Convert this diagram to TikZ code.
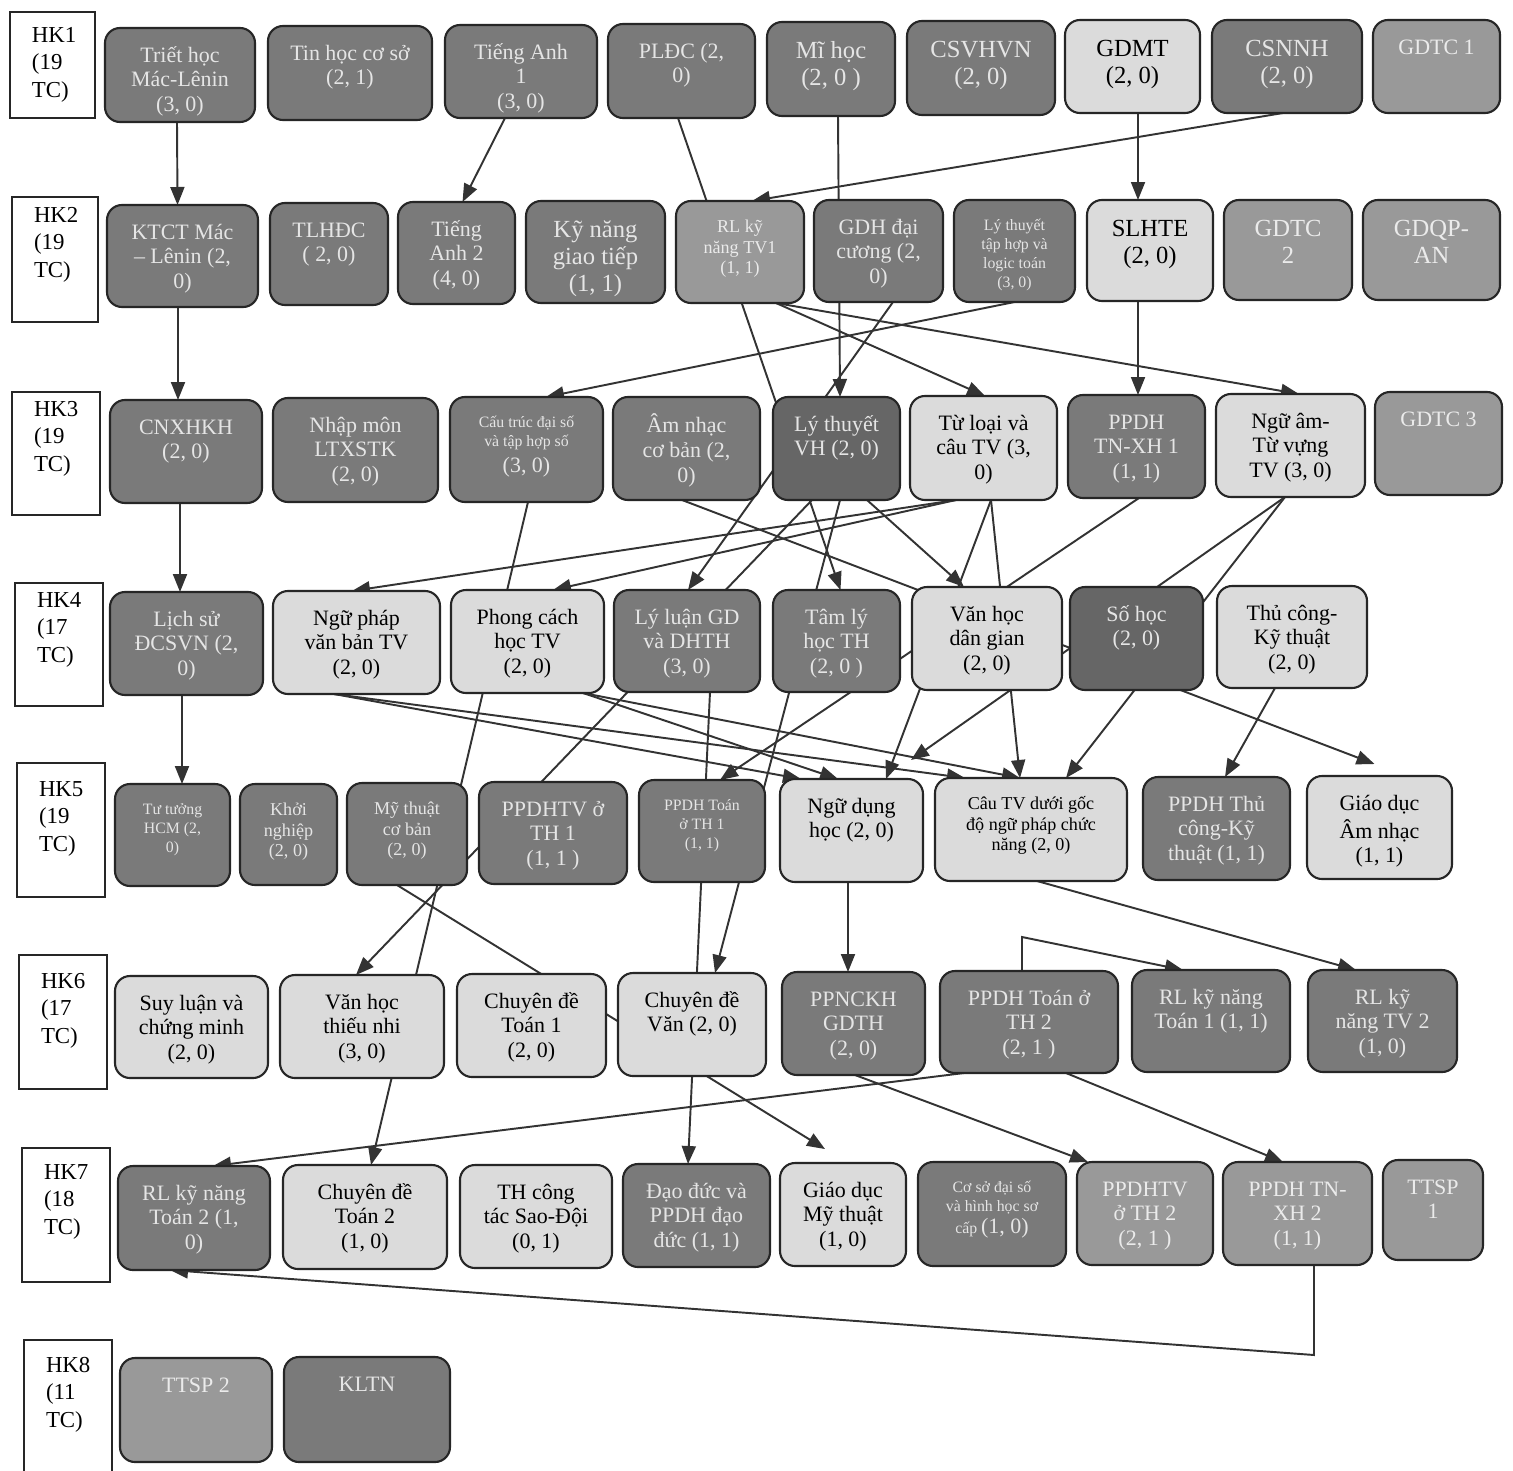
\documentclass[tikz,border=0pt]{standalone}
\usepackage{fontspec}
\setmainfont{Liberation Serif}
\usetikzlibrary{arrows.meta,calc,backgrounds}
\newlength{\pxu}\setlength{\pxu}{0.02cm}
% box text: width, height, text (top aligned)
\newcommand{\crs}[3]{\parbox[c][#2\pxu][t]{#1\pxu}{\centering\vspace*{17\pxu}\strut#3\par}}
% semester text: width, height, top gap, text
\newcommand{\hkt}[4]{\parbox[c][#2\pxu][t]{#1\pxu}{\vspace*{#3\pxu}\leftskip=22\pxu\rightskip=0pt plus 1fil\strut#4\par}}
\definecolor{dkgray}{gray}{0.48}
\definecolor{xdgray}{gray}{0.40}
\definecolor{mdgray}{gray}{0.60}
\definecolor{ltgray}{gray}{0.86}
\tikzset{
  crs/.style={draw=black!85,line width=1.2pt,rounded corners=0.3cm,inner sep=0pt,outer sep=0pt,
    font=\fontsize{12.5}{14}\selectfont},
  crsdk/.style={crs,fill=dkgray,text=white!90!black},
  crsxd/.style={crs,fill=xdgray,text=white!90!black},
  crsmd/.style={crs,fill=mdgray,text=white!92!black},
  crslt/.style={crs,fill=ltgray,text=black},
  small9/.style={font=\fontsize{9}{10.8}\selectfont},
  small10/.style={font=\fontsize{10.3}{11.8}\selectfont},
  big14/.style={font=\fontsize{14}{15.5}\selectfont},
  semester/.style={draw=black!85,line width=1pt,fill=white,inner sep=0pt,outer sep=0pt,
    font=\fontsize{13}{15.6}\selectfont},
  arr/.style={draw=black!80,line width=1.1pt,-{Triangle[length=0.36cm,width=0.28cm]}}
}
\begin{document}
\begin{tikzpicture}[x=0.02cm,y=-0.02cm]
\useasboundingbox (0,0) rectangle (1513,1470);

% semester labels
\node[semester] (hk1) at (52.5,65) {\hkt{85}{106}{11}{HK1\\(19\\TC)}};
\node[semester] (hk2) at (55,259.5) {\hkt{86}{125}{6}{HK2\\(19\\TC)}};
\node[semester] (hk3) at (56,453.5) {\hkt{88}{123}{5}{HK3\\(19\\TC)}};
\node[semester] (hk4) at (59,644.5) {\hkt{88}{123}{5}{HK4\\(17\\TC)}};
\node[semester] (hk5) at (61,830) {\hkt{88}{134}{14}{HK5\\(19\\TC)}};
\node[semester] (hk6) at (63,1022) {\hkt{88}{134}{14}{HK6\\(17\\TC)}};
\node[semester] (hk7) at (66,1215) {\hkt{88}{134}{12}{HK7\\(18\\TC)}};
\node[semester] (hk8) at (68,1410) {\hkt{88}{140}{13}{HK8\\(11\\TC)}};

% HK1
\node[crsdk] (r1a) at (180,75) {\crs{150}{94}{Triết học\\Mác-Lênin\\(3, 0)}};
\node[crsdk] (r1b) at (350,73) {\crs{164}{94}{Tin học cơ sở\\(2, 1)}};
\node[crsdk] (r1c) at (521,71.5) {\crs{152}{93}{Tiếng Anh\\1\\(3, 0)}};
\node[crsdk] (r1d) at (681.5,71) {\crs{147}{94}{PLĐC (2,\\0)}};
\node[crsdk,big14] (r1e) at (831,69) {\crs{128}{94}{Mĩ học\\(2, 0 )}};
\node[crsdk,big14] (r1f) at (981,68) {\crs{148}{94}{CSVHVN\\(2, 0)}};
\node[crslt,big14] (r1g) at (1132.5,66.5) {\crs{135}{93}{GDMT\\(2, 0)}};
\node[crsdk,big14] (r1h) at (1287,66.5) {\crs{150}{93}{CSNNH\\(2, 0)}};
\node[crsmd] (r1i) at (1436.5,66.5) {\crs{127}{93}{GDTC 1}};

% HK2
\node[crsdk] (r2a) at (182.5,256) {\crs{151}{102}{KTCT Mác\\– Lênin (2,\\0)}};
\node[crsdk] (r2b) at (329,254) {\crs{118}{102}{TLHĐC\\( 2, 0)}};
\node[crsdk] (r2c) at (456.5,253) {\crs{117}{102}{Tiếng\\Anh 2\\(4, 0)}};
\node[crsdk,big14] (r2d) at (595.5,252) {\crs{139}{102}{Kỹ năng\\giao tiếp\\(1, 1)}};
\node[crsmd,small10] (r2e) at (740,252) {\crs{128}{102}{RL kỹ\\năng TV1\\(1, 1)}};
\node[crsdk] (r2f) at (878.5,251) {\crs{129}{102}{GDH đại\\cương (2,\\0)}};
\node[crsdk,small9] (r2g) at (1014.5,251) {\crs{121}{102}{Lý thuyết\\tập hợp và\\logic toán\\(3, 0)}};
\node[crslt,big14] (r2h) at (1150,250.5) {\crs{126}{101}{SLHTE\\(2, 0)}};
\node[crsmd,big14] (r2i) at (1288,250) {\crs{128}{100}{GDTC\\2}};
\node[crsmd,big14] (r2j) at (1431.5,250) {\crs{137}{100}{GDQP-\\AN}};

% HK3
\node[crsdk] (r3a) at (186,451.5) {\crs{152}{103}{CNXHKH\\(2, 0)}};
\node[crsdk] (r3b) at (355.5,450) {\crs{165}{104}{Nhập môn\\LTXSTK\\(2, 0)}};
\node[crsdk,small9] (r3c) at (526.5,449.5) {\crs{153}{105}{Cấu trúc đại số\\và tập hợp số\\[4pt]{\fontsize{12.5}{14}\selectfont(3, 0)}}};
\node[crsdk] (r3d) at (686.5,448.5) {\crs{147}{103}{Âm nhạc\\cơ bản (2,\\0)}};
\node[crsxd] (r3e) at (836.5,448.5) {\crs{127}{103}{Lý thuyết\\VH (2, 0)}};
\node[crslt] (r3f) at (983.5,448) {\crs{147}{104}{Từ loại và\\câu TV (3,\\0)}};
\node[crsdk] (r3g) at (1136.5,446.5) {\crs{137}{103}{PPDH\\TN-XH 1\\(1, 1)}};
\node[crslt] (r3h) at (1290.5,445.5) {\crs{149}{103}{Ngữ âm-\\Từ vựng\\TV (3, 0)}};
\node[crsmd] (r3i) at (1438.5,443.5) {\crs{127}{103}{GDTC 3}};

% HK4
\node[crsdk] (r4a) at (186.5,643.5) {\crs{153}{103}{Lịch sử\\ĐCSVN (2,\\0)}};
\node[crslt] (r4b) at (356.5,642.5) {\crs{167}{103}{Ngữ pháp\\văn bản TV\\(2, 0)}};
\node[crslt] (r4c) at (527.5,641.5) {\crs{153}{103}{Phong cách\\học TV\\(2, 0)}};
\node[crsdk] (r4d) at (687,641) {\crs{146}{102}{Lý luận GD\\và DHTH\\(3, 0)}};
\node[crsdk] (r4e) at (836.5,641) {\crs{127}{102}{Tâm lý\\học TH\\(2, 0 )}};
\node[crslt] (r4f) at (987,638.5) {\crs{150}{103}{Văn học\\dân gian\\(2, 0)}};
\node[crsxd] (r4g) at (1136.5,638.5) {\crs{133}{103}{Số học\\(2, 0)}};
\node[crslt] (r4h) at (1292,637) {\crs{150}{102}{Thủ công-\\Kỹ thuật\\(2, 0)}};

% HK5
\node[crsdk,small9] (r5a) at (172.5,835) {\crs{115}{102}{Tư tưởng\\HCM (2,\\0)}};
\node[crsdk,small10] (r5b) at (288.5,834.5) {\crs{97}{101}{Khởi\\nghiệp\\(2, 0)}};
\node[crsdk,small10] (r5c) at (407,834) {\crs{120}{102}{Mỹ thuật\\cơ bản\\(2, 0)}};
\node[crsdk] (r5d) at (553,833) {\crs{148}{102}{PPDHTV ở\\TH 1\\(1, 1 )}};
\node[crsdk,small9] (r5e) at (702,831) {\crs{126}{102}{PPDH Toán\\ở TH 1\\(1, 1)}};
\node[crslt] (r5f) at (851.5,830.5) {\crs{143}{103}{Ngữ dụng\\học (2, 0)}};
\node[crslt,small10] (r5g) at (1031,829.5) {\crs{192}{103}{Câu TV dưới gốc\\độ ngữ pháp chức\\năng (2, 0)}};
\node[crsdk] (r5h) at (1216.5,828.5) {\crs{147}{103}{PPDH Thủ\\công-Kỹ\\thuật (1, 1)}};
\node[crslt] (r5i) at (1379.5,827.5) {\crs{145}{103}{Giáo dục\\Âm nhạc\\(1, 1)}};

% HK6
\node[crslt] (r6a) at (191.5,1027) {\crs{153}{102}{Suy luận và\\chứng minh\\(2, 0)}};
\node[crslt] (r6b) at (362,1026.5) {\crs{164}{103}{Văn học\\thiếu nhi\\(3, 0)}};
\node[crslt] (r6c) at (531.5,1025.5) {\crs{149}{103}{Chuyên đề\\Toán 1\\(2, 0)}};
\node[crslt] (r6d) at (692,1024.5) {\crs{148}{103}{Chuyên đề\\Văn (2, 0)}};
\node[crsdk] (r6e) at (853.5,1023.5) {\crs{143}{103}{PPNCKH\\GDTH\\(2, 0)}};
\node[crsdk] (r6f) at (1029,1022) {\crs{178}{102}{PPDH Toán ở\\TH 2\\(2, 1 )}};
\node[crsdk] (r6g) at (1211,1021) {\crs{158}{102}{RL kỹ năng\\Toán 1 (1, 1)}};
\node[crsdk] (r6h) at (1382.5,1021) {\crs{149}{102}{RL kỹ\\năng TV 2\\(1, 0)}};

% HK7
\node[crsdk] (r7a) at (194,1218) {\crs{152}{104}{RL kỹ năng\\Toán 2 (1,\\0)}};
\node[crslt] (r7b) at (365,1217) {\crs{164}{104}{Chuyên đề\\Toán 2\\(1, 0)}};
\node[crslt] (r7c) at (536,1216.5) {\crs{152}{103}{TH công\\tác Sao-Đội\\(0, 1)}};
\node[crsdk] (r7d) at (696.5,1215.5) {\crs{147}{103}{Đạo đức và\\PPDH đạo\\đức (1, 1)}};
\node[crslt] (r7e) at (843,1214.5) {\crs{126}{103}{Giáo dục\\Mỹ thuật\\(1, 0)}};
\node[crsdk,small9] (r7f) at (992,1214) {\crs{148}{104}{Cơ sở đại số\\và hình học sơ\\[2pt]cấp {\fontsize{12.5}{14}\selectfont(1, 0)}}};
\node[crsmd] (r7g) at (1145,1213.5) {\crs{136}{103}{PPDHTV\\ở TH 2\\(2, 1 )}};
\node[crsmd] (r7h) at (1297.5,1213.5) {\crs{149}{103}{PPDH TN-\\XH 2\\(1, 1)}};
\node[crsmd] (r7i) at (1433,1210) {\crs{100}{100}{TTSP\\1}};

% HK8
\node[crsmd] (r8a) at (196,1410) {\crs{152}{104}{TTSP 2}};
\node[crsdk] (r8b) at (367,1409.5) {\crs{166}{105}{KLTN}};

\begin{scope}[on background layer]
\fill[white] (0,0) rectangle (1513,1470);
% HK1 -> HK2
\draw[arr] ($(r1a.south)+(-3,0)$) -- ($(r2a.north)+(-5,0)$);
\draw[arr] ($(r1c.south)+(-16,0)$) -- ($(r2c.north)+(6,0)$);
\draw[arr] ($(r1d.south)+(-3.5,0)$) -- ($(r4e.north)+(4,0)$); %PLDC
\draw[arr] ($(r1e.south)+(7,0)$) -- ($(r3e.north)+(3.5,0)$);
\draw[arr] ($(r1h.south)+(-4,0)$) -- ($(r2e.north)+(12,0)$);
\draw[arr] ($(r1g.south)+(5.5,0)$) -- ($(r2h.north)+(-12,0)$);
% HK2 -> HK3
\draw[arr] ($(r2a.south)+(-4.5,0)$) -- ($(r3a.north)+(-8,0)$);
\draw[arr] ($(r2f.south)+(14.5,0)$) -- ($(r4d.north)+(1,0)$);
\draw[arr] (r2g.south) -- ($(r3c.north)+(19.5,0)$);
\draw[arr] ($(r2h.south)+(-12,0)$) -- ($(r3g.north)+(1.5,0)$);
\draw[arr] ($(r2e.south)+(36,0)$) -- ($(r3f.north)+(1.5,0)$);
\draw[arr] ($(r2e.south)+(36,0)$) -- ($(r3h.north)+(8.5,0)$);
% HK3 -> later
\draw[arr] ($(r3a.south)+(-6,0)$) -- ($(r4a.north)+(-6.5,0)$);
\draw[arr] ($(r3c.south)+(1.5,0)$) -- ($(r7b.north)+(6,0)$); %long
\draw[arr] ($(r3d.south)+(-4.5,0)$) -- ($(r5i.north)+(-5,-12)$); %long
\draw[arr] ($(r3f.south)+(-27.5,0)$) -- ($(r4b.north)+(-4.5,0)$);
\draw[arr] ($(r3f.south)+(-27.5,0)$) -- ($(r4c.north)+(25.5,0)$);
\draw[arr] ($(r3e.south)+(-24.5,0)$) -- ($(r6b.north)+(-6,0)$);
\draw[arr] ($(r3e.south)+(3.5,0)$) -- ($(r6d.north)+(23,0)$);
\draw[arr] ($(r3e.south)+(30.5,0)$) -- ($(r4f.north)+(-23,0)$);
\draw[arr] ($(r3f.south)+(7.5,0)$) -- ($(r5f.north)+(34.5,0)$);
\draw[arr] ($(r3f.south)+(7.5,0)$) -- ($(r5g.north)+(-11,0)$);
\draw[arr] ($(r3g.south)+(2.5,0)$) -- ($(r5e.north)+(18,0)$);
\draw[arr] ($(r3h.south)+(-5.5,0)$) -- ($(r5f.north east)+(-12,-19)$);
\draw[arr] ($(r3h.south)+(-5.5,0)$) -- ($(r5g.north)+(35,0)$);
% HK4 -> later
\draw[arr] ($(r4a.south)+(-4.5,0)$) -- ($(r5a.north)+(9.5,0)$);
\draw[arr] ($(r4b.south)+(-22.5,0)$) -- ($(r5f.north)+(-50.5,0)$);
\draw[arr] ($(r4b.south)+(-22.5,0)$) -- ($(r5g.north)+(-66,0)$);
\draw[arr] ($(r4c.south)+(55.5,0)$) -- ($(r5f.north)+(-13.5,0)$);
\draw[arr] ($(r4c.south)+(55.5,0)$) -- ($(r5g.north)+(-11,0)$);
\draw[arr] ($(r4d.south)+(23,0)$) -- ($(r7d.north)+(-8.5,0)$);
\draw[arr] ($(r4h.south)+(-17,0)$) -- ($(r5h.north)+(8.5,0)$);
% HK5 -> later
\draw[arr] ($(r5c.south)+(-10,0)$) -- ($(r7e.north)+(-18,-14)$);
\draw[arr] ($(r5f.south)+(-3.5,0)$) -- ($(r6e.north)+(-5.5,0)$);
\draw[arr] ($(r5g.south)+(6,0)$) -- ($(r6h.north)+(-26.5,0)$);
% HK6 -> HK7
\draw[arr] ($(r6f.north)+(-7,0)$) -- ++(0,-34) -- ($(r6g.north)+(-28,0)$);
\draw[arr] ($(r6f.south)+(-65,0)$) -- ($(r7a.north)+(19,0)$);
\draw[arr] ($(r6e.south)+(1.5,0)$) -- ($(r7g.north)+(-57,0)$);
\draw[arr] ($(r6f.south)+(37,0)$) -- ($(r7h.north)+(-14.5,0)$);
\draw[arr] ($(r7h.south)+(16.5,0)$) -- ++(0,90) -- ($(r7a.south)+(-24,0)$); %back loop
\end{scope}
\end{tikzpicture}
\end{document}
